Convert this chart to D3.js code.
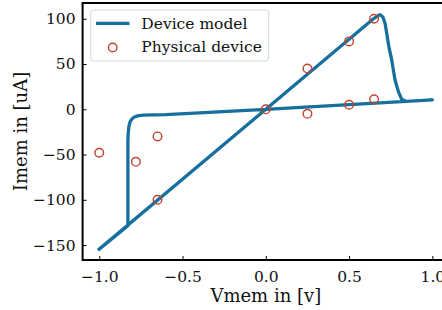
<!DOCTYPE html>
<html>
<head>
<meta charset="utf-8">
<script src="https://cdn.jsdelivr.net/npm/d3@7"></script>
<style>
  body { margin: 0; background: #fff; }
  svg { display: block; font-family: "DejaVu Serif", serif; }
</style>
</head>
<body>
<svg id="chart" width="442" height="310"></svg>
<script>
// model curve (hysteresis loop)
const modelV = [-1.0, 0.0, 0.65, 0.675, 0.687, 0.703, 0.716, 0.726, 0.74, 0.756, 0.776, 0.796, 0.816, 0.84, 1.0,
                0.0, -0.6, -0.736, -0.77, -0.79, -0.805, -0.815, -0.822, -0.826, -0.828, -0.828, -1.0];
const modelI = [-154.5, 0, 100.5, 103.5, 104.5, 102, 95, 84, 68, 54.5, 32.4, 19.5, 11, 8.8, 10.3,
                0, -5.8, -6.5, -7.3, -8.5, -11, -14, -19, -26, -35, -128.5, -154.5];

// measured points
const physV = [-1.0, -0.78, -0.65, -0.65, 0.0, 0.25, 0.25, 0.5, 0.5, 0.65, 0.65];
const physI = [-48, -58, -30, -100, 0, -5, 45, 75, 5, 100, 11];

const xTicks = [-1.0, -0.5, 0.0, 0.5, 1.0];
const yTicks = [-150, -100, -50, 0, 50, 100];

const lineColor = "#16709e";
const dotColor = "#c0432f";

var svg = d3.select("#chart");
var margin = { top: 3, left: 82.6, right: 449, bottom: 260 };

var x = d3.scaleLinear().domain([-1.1, 1.1]).range([margin.left, margin.right]);
var y = d3.scaleLinear().domain([-166.5, 117.4]).range([margin.bottom, margin.top]);

// axes: ticks pointing inward
var fmtX = function (d) { return d3.format(".1f")(d).replace("-", "\u2212"); };
var fmtY = function (d) { return String(d).replace("-", "\u2212"); };

var xAxis = svg.append("g")
    .attr("transform", "translate(0," + margin.bottom + ")")
    .call(d3.axisBottom(x).tickValues(xTicks).tickSize(-4).tickPadding(9).tickFormat(fmtX));
var yAxis = svg.append("g")
    .attr("transform", "translate(" + margin.left + ",0)")
    .call(d3.axisLeft(y).tickValues(yTicks).tickSize(-4).tickPadding(7).tickFormat(fmtY));

[xAxis, yAxis].forEach(function (a) {
    a.select(".domain").remove();
    a.selectAll(".tick line").attr("stroke", "#000").attr("stroke-width", 1);
    a.selectAll(".tick text")
     .attr("fill", "#111")
     .style("font-size", "15.5px")
     .style("font-family", "DejaVu Serif, serif");
});
xAxis.selectAll(".tick text").attr("dy", "0.85em");

// model line
var line = d3.line()
    .x(function (d) { return x(d[0]); })
    .y(function (d) { return y(d[1]); });
var modelPts = modelV.map(function (v, i) { return [v, modelI[i]]; });

svg.append("path")
    .datum(modelPts)
    .attr("d", line)
    .attr("fill", "none")
    .attr("stroke", lineColor)
    .attr("stroke-width", 3.3)
    .attr("stroke-linejoin", "round")
    .attr("stroke-linecap", "square");

// measured points
svg.append("g").selectAll("circle")
    .data(physV.map(function (v, i) { return [v, physI[i]]; }))
    .enter().append("circle")
    .attr("cx", function (d) { return x(d[0]); })
    .attr("cy", function (d) { return y(d[1]); })
    .attr("r", 4.3)
    .attr("fill", "none")
    .attr("stroke", dotColor)
    .attr("stroke-width", 1.4);

// spines
svg.append("rect")
    .attr("x", margin.left).attr("y", margin.top)
    .attr("width", margin.right - margin.left)
    .attr("height", margin.bottom - margin.top)
    .attr("fill", "none")
    .attr("stroke", "#000")
    .attr("stroke-width", 2);

// axis labels
svg.append("text")
    .attr("x", (margin.left + margin.right) / 2)
    .attr("y", 302)
    .attr("text-anchor", "middle")
    .style("font-size", "18px")
    .attr("fill", "#111")
    .text("Vmem in [v]");

svg.append("text")
    .attr("transform", "translate(27," + (margin.top + margin.bottom) / 2 + ") rotate(-90)")
    .attr("text-anchor", "middle")
    .style("font-size", "18px")
    .attr("fill", "#111")
    .text("Imem in [uA]");

// legend
var lg = svg.append("g");
lg.append("rect")
    .attr("x", 90.7).attr("y", 10)
    .attr("width", 178).attr("height", 51)
    .attr("rx", 3)
    .attr("fill", "#fff").attr("fill-opacity", 0.8)
    .attr("stroke", "#d6d6d6").attr("stroke-width", 1);
lg.append("line")
    .attr("x1", 96).attr("x2", 129.5)
    .attr("y1", 23.3).attr("y2", 23.3)
    .attr("stroke", lineColor).attr("stroke-width", 3.3);
lg.append("circle")
    .attr("cx", 112.7).attr("cy", 47.5).attr("r", 4.3)
    .attr("fill", "none").attr("stroke", dotColor).attr("stroke-width", 1.4);
lg.append("text")
    .attr("x", 141.3).attr("y", 29.3)
    .style("font-size", "15.5px").attr("fill", "#111")
    .text("Device model");
lg.append("text")
    .attr("x", 141.3).attr("y", 51.7)
    .style("font-size", "15.5px").attr("fill", "#111")
    .text("Physical device");
</script>
</body>
</html>
